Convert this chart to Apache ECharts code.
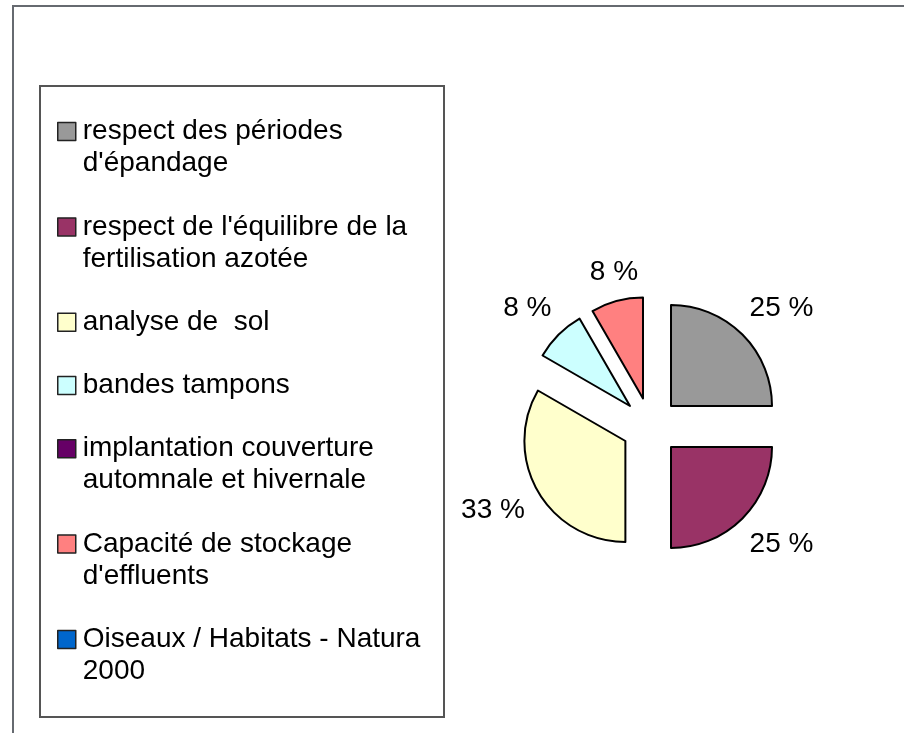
<!DOCTYPE html>
<html>
<head>
<meta charset="utf-8">
<script src="https://cdn.jsdelivr.net/npm/echarts@6/dist/echarts.min.js"></script>
<style>
html, body { margin: 0; padding: 0; background: #fff; }
#main { width: 904px; height: 733px; }
</style>
</head>
<body>
<div id="main"></div>
<script>
// categories (legend order = slice order, clockwise from 12 o'clock)
var categories = [
    "respect des périodes\nd'épandage",
    "respect de l'équilibre de la\nfertilisation azotée",
    "analyse de  sol",
    "bandes tampons",
    "implantation couverture\nautomnale et hivernale",
    "Capacité de stockage\nd'effluents",
    "Oiseaux / Habitats - Natura\n2000"
];
var values = [3, 3, 4, 1, 0, 1, 0];
var colors = ['#999999', '#993366', '#ffffcc', '#ccffff', '#660066', '#ff8080', '#0066cc'];

var font = "'Liberation Sans', Arial, sans-serif";
var total = values.reduce(function (a, b) { return a + b; }, 0);

var myChart = echarts.init(document.getElementById('main'));

// one legend per entry so the square sits on the first line of the text
var legends = [];
var iconCenter = 131.5;
categories.forEach(function (name, i) {
    var lines = name.split('\n').length;
    legends.push({
        data: [name],
        orient: 'vertical',
        left: 57,
        top: iconCenter - 16 * (2 * lines - 1),
        padding: 0,
        selectedMode: false,
        icon: 'rect',
        itemWidth: 18,
        itemHeight: 18,
        itemGap: 0,
        itemStyle: { borderColor: '#222', borderWidth: 1.5 },
        // blank lines on top keep the first text line level with the square
        formatter: function (n) {
            return new Array(lines).join('\n') + n;
        },
        textStyle: {
            fontFamily: font,
            fontSize: 28,
            lineHeight: 32,
            color: '#000',
            padding: [0, 0, 0, 2]
        }
    });
    iconCenter += lines * 32.2 + 31;
});

var pieData = categories.map(function (name, i) {
    var item = {
        name: name,
        value: values[i],
        itemStyle: { color: colors[i] }
    };
    if (values[i] > 0) {
        item.selected = true;
    } else {
        item.itemStyle.borderWidth = 0;
        item.label = { show: false };
    }
    return item;
});
// the small slice near 12 o'clock has its label a bit lower and further right
pieData[5].labelLine = { show: false, length: 30, length2: -34 };

var option = {
    animation: false,
    color: colors,
    graphic: [
        {
            type: 'rect',
            z: -10,
            shape: { x: 13, y: 6, width: 1000, height: 1000 },
            style: { fill: null, stroke: '#666a70', lineWidth: 2 }
        },
        {
            type: 'rect',
            z: -10,
            shape: { x: 40, y: 86, width: 404, height: 631 },
            style: { fill: '#fff', stroke: '#555', lineWidth: 2 }
        }
    ],
    legend: legends,
    series: [{
        type: 'pie',
        center: [650.5, 426.5],
        radius: 101,
        startAngle: 90,
        clockwise: true,
        selectedMode: 'multiple',
        selectedOffset: 29,
        avoidLabelOverlap: false,
        itemStyle: { borderColor: '#000', borderWidth: 2 },
        select: { itemStyle: { borderColor: '#000', borderWidth: 2 } },
        emphasis: { disabled: true },
        label: {
            show: true,
            position: 'outside',
            fontFamily: font,
            fontSize: 28,
            color: '#000',
            formatter: function (p) {
                return Math.round(p.value / total * 100) + ' %';
            }
        },
        labelLine: { show: false, length: 37, length2: -24 },
        data: pieData
    }]
};

myChart.setOption(option);
</script>
</body>
</html>
